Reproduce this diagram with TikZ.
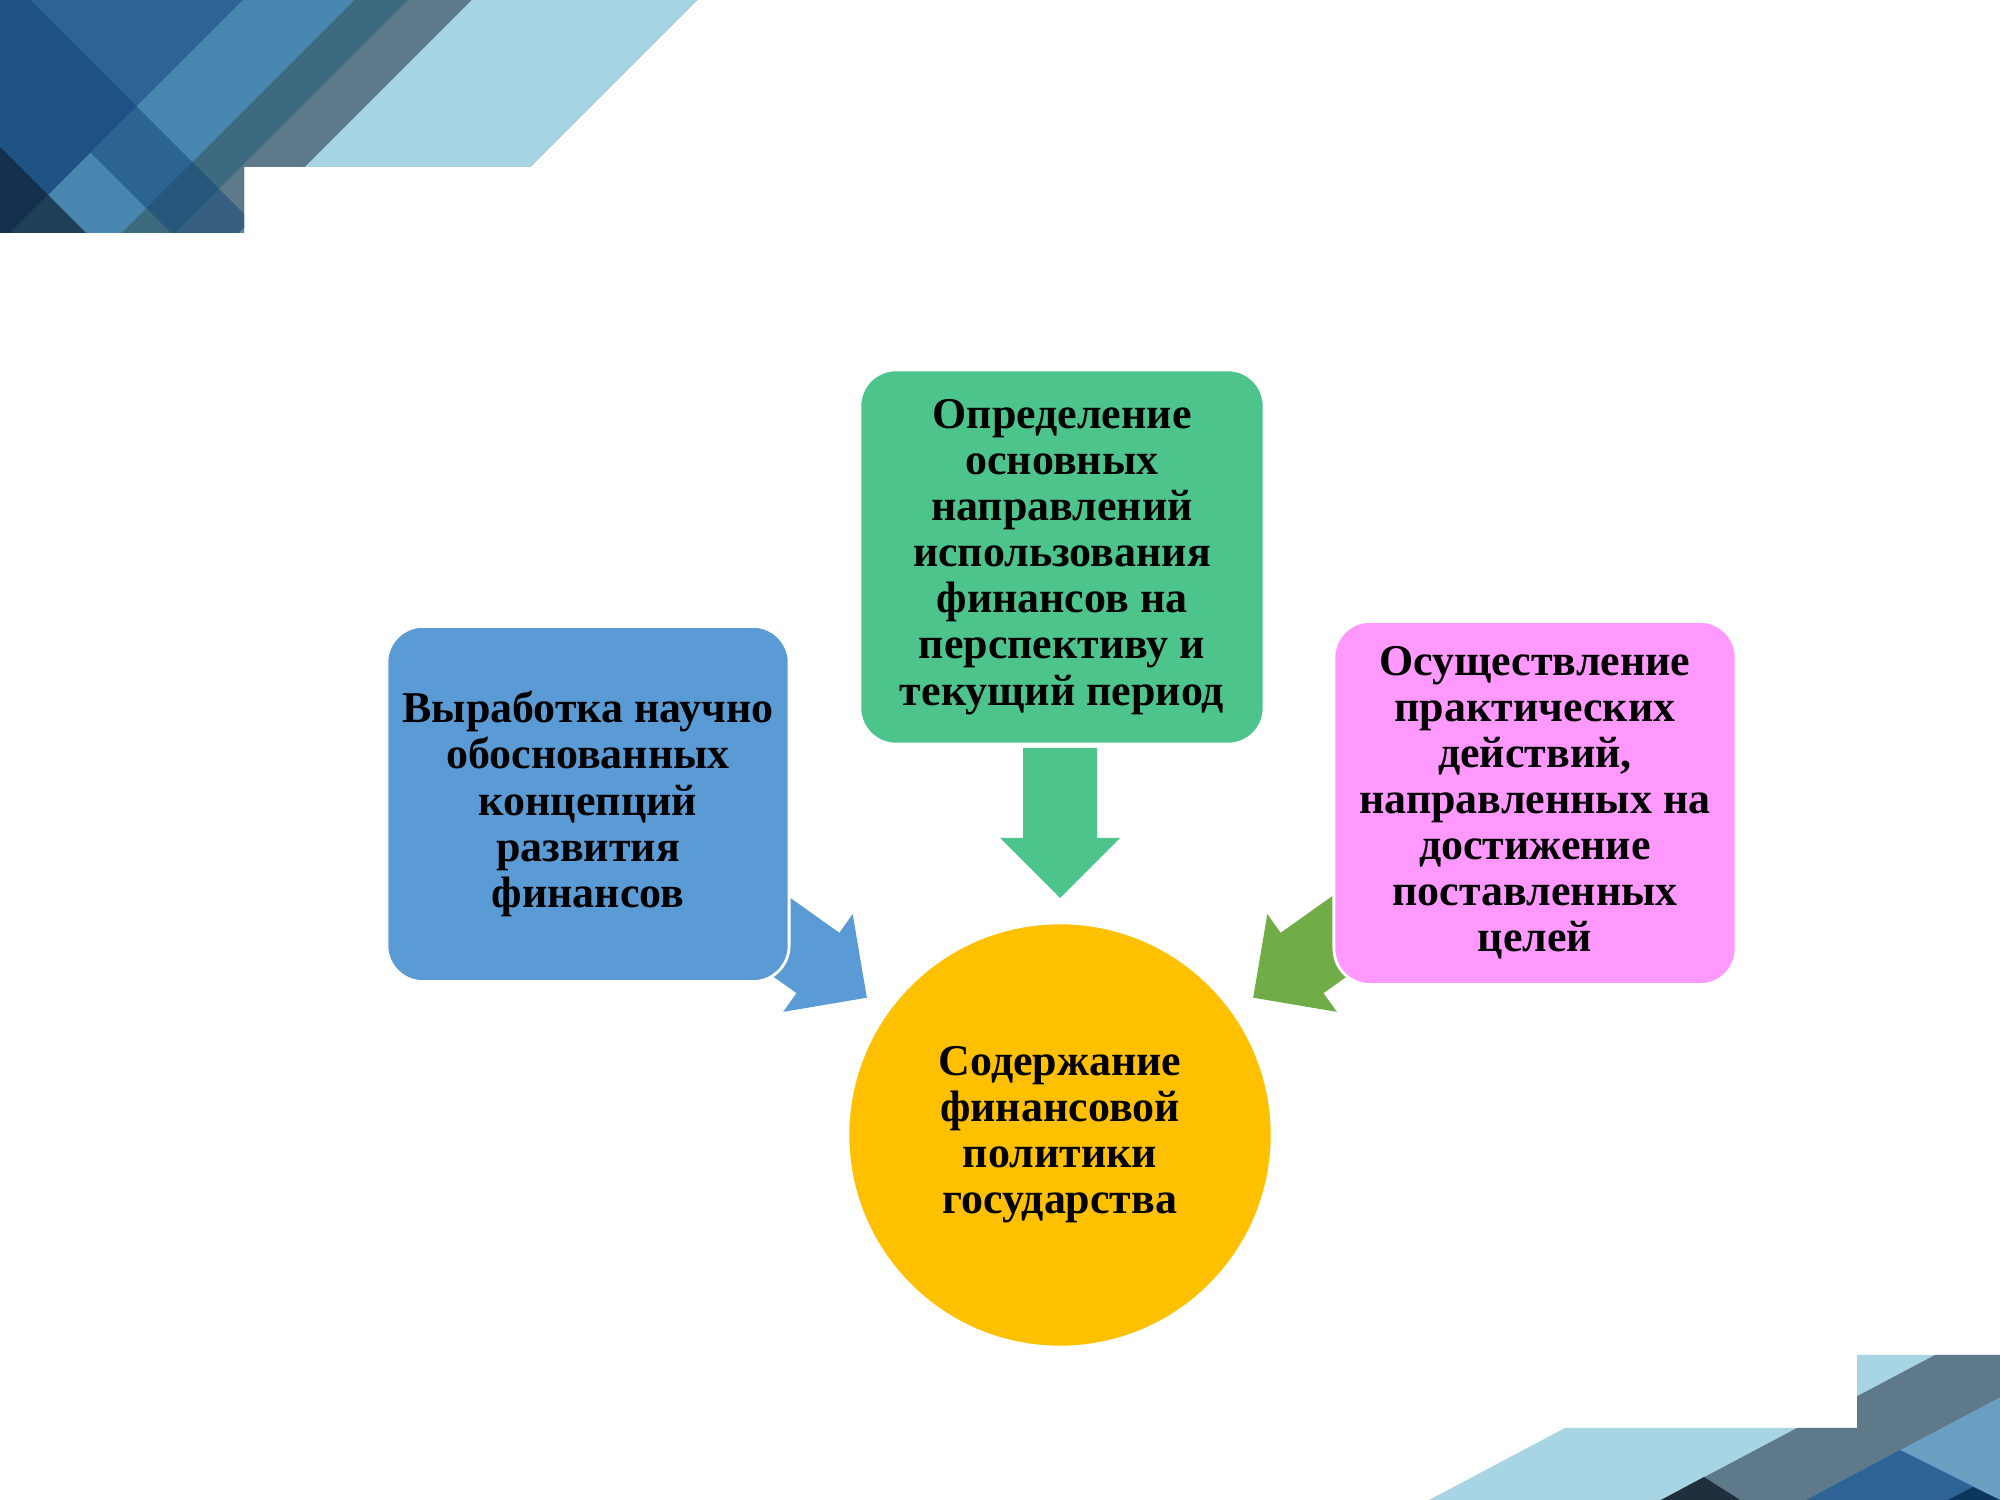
\documentclass[tikz,border=0pt]{standalone}
\usepackage{fontspec}
\setmainfont{Liberation Serif}
\usetikzlibrary{calc}

\definecolor{boxblue}{RGB}{91,155,213}
\definecolor{boxgreen}{RGB}{78,196,141}
\definecolor{boxpink}{RGB}{255,153,255}
\definecolor{goalyellow}{RGB}{255,192,0}
\definecolor{arrowgreen}{RGB}{112,173,71}
\definecolor{decoA}{RGB}{46,99,150}
\definecolor{decoB}{RGB}{72,134,176}
\definecolor{decoC}{RGB}{62,106,128}
\definecolor{decoD}{RGB}{94,122,138}
\definecolor{decoE}{RGB}{168,213,227}
\definecolor{decoF}{RGB}{107,159,194}
\definecolor{decoNavy}{RGB}{16,67,116}
\definecolor{decoDark}{RGB}{5,15,30}

\tikzset{
  stagebox/.style={rectangle, rounded corners=0.36cm, draw=white, line width=0.8pt,
    align=center, inner sep=0pt, font=\bfseries\fontsize{12.5}{13.1}\selectfont},
}
\newcommand\convarrow[3]{\fill[#1, shift={#2}, rotate=#3] (0,0) -- (-60,60) -- (-60,37) -- (-150,37) -- (-150,-37) -- (-60,-37) -- (-60,-60) -- cycle;}

\begin{document}
\begin{tikzpicture}[x=0.01cm, y=0.01cm]
		%%%%% START %%%%%
		\useasboundingbox (0,0) rectangle (2000,1500);
		\fill[white] (0,0) rectangle (2000,1500);
		
		% top left corner
		\begin{scope}[shift={(0,1500)}, yscale=-1]
			\clip (0,0) -- (697,0) -- (530,167) -- (244,167) -- (244,233) -- (0,233) -- cycle;
			\fill[decoA] (0,0) rectangle (700,240);
			\fill[decoB] (243,0) -- (355,0) -- (0,355) -- (0,243) -- cycle;
			\fill[decoC] (355,0) -- (408,0) -- (0,408) -- (0,355) -- cycle;
			\fill[decoD] (408,0) -- (472,0) -- (0,472) -- (0,408) -- cycle;
			\fill[decoE] (472,0) -- (697,0) -- (0,697) -- (0,472) -- cycle;
			\fill[decoNavy, opacity=0.5] (30,0) -- (330,300) -- (238,300) -- (-62,0) -- cycle;
			\fill[decoNavy, opacity=0.5] (0,62) -- (90.5,152.5) -- (48,195) -- (0,147) -- cycle;
			\fill[decoDark, opacity=0.6] (0,147) -- (200,347) -- (0,347) -- cycle;
		\end{scope}
		
		% bottom right corner
		\begin{scope}
			\clip (1429,0) -- (1565,72) -- (1857,72) -- (1857,145) -- (2000,145) -- (2000,0) -- cycle;
			\fill[decoE] (1400,0) rectangle (2000,150);
			\fill[decoD] (1661,0) -- (1935,145) -- (2000,145) -- (2000,0) -- cycle;
			\fill[decoF] (1806,0) -- (2080,145) -- (2100,145) -- (2100,0) -- cycle;
			\fill[decoA] (1806,0) -- (1900,50) -- (2000,0) -- cycle;
			\fill[decoNavy!80!black] (1948,0) -- (1973,13) -- (2000,0) -- cycle;
			\fill[decoDark!70!decoD] (1661,0) -- (1704,23) -- (1740,0) -- cycle;
		\end{scope}
		
		\node[stagebox, circle, fill=goalyellow, minimum size=4.24cm] (goal) at (1060,365)
			{Содержание\\финансовой\\политики\\государства};
		
		\convarrow{boxblue}{($(goal.center)+(144.6:237)$)}{-35.4}
		\convarrow{boxgreen}{($(goal.center)+(90:237)$)}{-90}
		\convarrow{arrowgreen}{($(goal.center)+(35.4:237)$)}{-144.6}
		
		\node[stagebox, fill=boxblue, minimum width=4.02cm, minimum height=3.55cm] (concept) at (588,696)
			{Выработка научно\\обоснованных\\концепций\\развития\\финансов};
		\node[stagebox, fill=boxgreen, minimum width=4.04cm, minimum height=3.74cm] (direction) at (1062,943)
			{Определение\\основных\\направлений\\использования\\финансов на\\перспективу и\\текущий период};
		\node[stagebox, fill=boxpink, minimum width=4.02cm, minimum height=3.63cm] (action) at (1535,697)
			{Осуществление\\практических\\действий,\\направленных на\\достижение\\поставленных\\целей};
		
		%%%%% END %%%%%
	\end{tikzpicture}
\end{document}
